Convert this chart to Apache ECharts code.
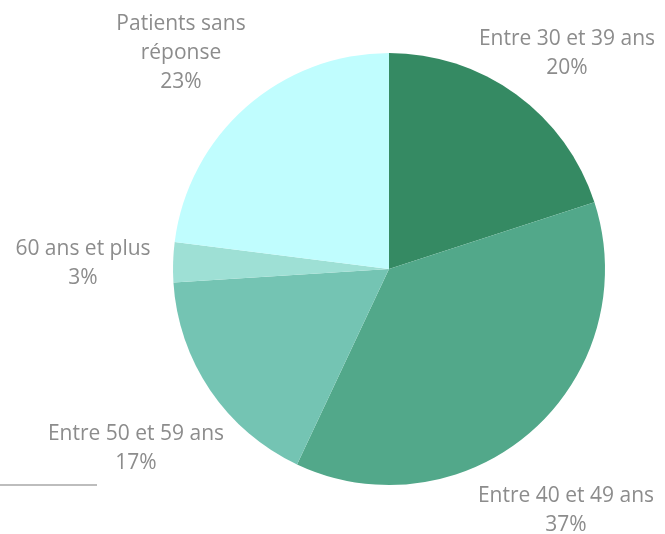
<!DOCTYPE html>
<html>
<head>
<meta charset="utf-8">
<script src="https://cdn.jsdelivr.net/npm/echarts@6/dist/echarts.min.js"></script>
<style>
  html, body { margin: 0; padding: 0; background: #fff; }
  #chart { width: 665px; height: 534px; }
</style>
</head>
<body>
<div id="chart"></div>
<script>
var categories = ['Entre 30 et 39 ans', 'Entre 40 et 49 ans', 'Entre 50 et 59 ans', '60 ans et plus', 'Patients sans\nréponse']
var values = [20, 37, 17, 3, 23]
var colors = ['#358a63', '#52a88a', '#74c4b3', '#9ee0d5', '#c0fdfe']

// label centres
var labelPos = [[567, 54], [566, 511], [136, 449], [83, 264], [181, 53]]

var chart = echarts.init(document.getElementById('chart'))
var option = {
  animation: false,
  graphic: [
    {
      type: 'line',
      shape: { x1: 0, y1: 485, x2: 97, y2: 485 },
      style: { stroke: '#bdbdbd', lineWidth: 2 }
    }
  ],
  series: [
    {
      type: 'pie',
      center: [389, 269],
      radius: 216,
      startAngle: 90,
      clockwise: true,
      data: categories.map(function (c, i) {
        return { name: c, value: values[i], itemStyle: { color: colors[i] } }
      }),
      label: {
        show: true,
        position: 'outside',
        formatter: function (p) { return p.name + '\n' + p.value + '%' },
        color: '#8c8c8c',
        fontFamily: '"Open Sans", sans-serif',
        fontSize: 21,
        lineHeight: 29,
        align: 'center',
        overflow: 'none',
        width: 300
      },
      labelLine: { show: false },
      labelLayout: function (p) {
        var pos = labelPos[p.dataIndex]
        return { x: pos[0], y: pos[1], align: 'center', verticalAlign: 'middle' }
      },
      emphasis: { disabled: true }
    }
  ]
}
chart.setOption(option)
</script>
</body>
</html>
